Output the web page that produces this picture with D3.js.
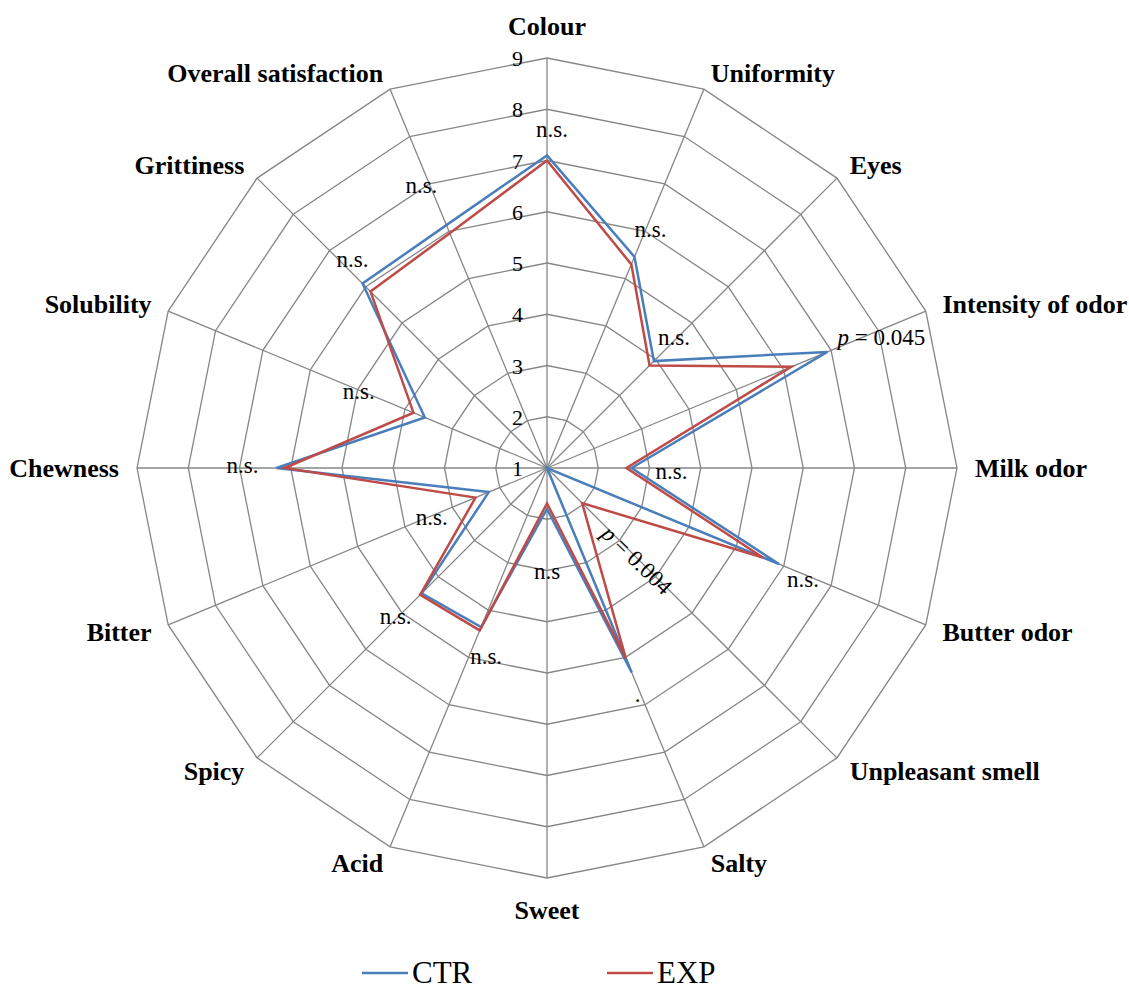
<!DOCTYPE html>
<html>
<head>
<meta charset="utf-8">
<script src="https://cdn.jsdelivr.net/npm/d3@7"></script>
<style>
    body { margin: 0; background: #fff; }
    text { font-family: "Liberation Serif", "Times New Roman", serif; }
</style>
</head>
<body>
<script>
window.onload = main;

// dati
const categories = ["Colour", "Uniformity", "Eyes", "Intensity of odor", "Milk odor", "Butter odor",
    "Unpleasant smell", "Salty", "Sweet", "Acid", "Spicy", "Bitter", "Chewness", "Solubility",
    "Grittiness", "Overall satisfaction"];
const ctrValues = [7.1, 5.46, 3.95, 6.92, 2.65, 5.9, 1.0, 5.32, 1.8, 4.36, 4.46, 2.23, 6.28, 3.58, 6.09, 6.13];
const expValues = [7.0, 5.3, 3.83, 6.16, 2.55, 5.56, 1.97, 5.02, 1.69, 4.43, 4.5, 2.51, 6.12, 3.82, 5.87, 5.96];
const tickValues = [1, 2, 3, 4, 5, 6, 7, 8, 9];
const notes = ["n.s.", "n.s.", "n.s.", "p = 0.045", "n.s.", "n.s.", "p = 0.004", ".", "n.s", "n.s.",
    "n.s.", "n.s.", "n.s.", "n.s.", "n.s.", "n.s."];
const seriesNames = ["CTR", "EXP"];

// layout
const svgWidth = 1129;
const svgHeight = 992;
const cx = 547, cy = 468, radius = 410;
const colors = ["#4a7ebb", "#be4b48"];
const gridColor = "#868686";
// spostamento delle note (px) rispetto al punto CTR
const noteShift = [[5, -23], [16, -25], [20, -21], [54, -12], [40, 6], [24, 18], [88, 94], [6, 24],
    [0, 65], [5, 32], [-26, 26], [-57, 28], [-34, 0], [-66, -23], [-10, -22], [-25, -37]];

function main() {
    const svg = d3.select("body")
        .append("svg")
        .attr("width", svgWidth)
        .attr("height", svgHeight);

    render_radar(svg);
    render_legend(svg);
}

function render_radar(svg) {
    const g = svg.append("g")
        .attr("transform", `translate(${cx}, ${cy})`);

    const n = categories.length;
    const angle = d3.scaleLinear().domain([0, n]).range([0, 2 * Math.PI]);
    const r = d3.scaleLinear().domain([1, 9]).range([0, radius]);

    const px = (i, v) => r(v) * Math.sin(angle(i));
    const py = (i, v) => -r(v) * Math.cos(angle(i));
    const idx = d3.range(n);

    // anelli della griglia
    g.selectAll(".ring")
        .data(tickValues.slice(1))
        .join("polygon")
        .attr("class", "ring")
        .attr("points", v => idx.map(i => [px(i, v), py(i, v)].join(",")).join(" "))
        .attr("fill", "none")
        .attr("stroke", gridColor)
        .attr("stroke-width", 1.3);

    // raggi
    g.selectAll(".spoke")
        .data(idx)
        .join("line")
        .attr("class", "spoke")
        .attr("x1", 0).attr("y1", 0)
        .attr("x2", i => px(i, 9))
        .attr("y2", i => py(i, 9))
        .attr("stroke", gridColor)
        .attr("stroke-width", 1.3);

    // etichette dell'asse
    g.selectAll(".tick")
        .data(tickValues)
        .join("text")
        .attr("class", "tick")
        .attr("x", -24)
        .attr("y", v => -r(v) + 8)
        .attr("text-anchor", "end")
        .attr("font-size", 22)
        .text(v => v);

    // serie
    const lineGen = d3.lineRadial()
        .angle((d, i) => angle(i))
        .radius(d => r(d))
        .curve(d3.curveLinearClosed);

    [ctrValues, expValues].forEach((vals, k) => {
        g.append("path")
            .attr("d", lineGen(vals))
            .attr("fill", "none")
            .attr("stroke", colors[k])
            .attr("stroke-width", 2.5)
            .attr("stroke-linejoin", "miter");
    });

    // nomi delle categorie
    g.selectAll(".cat")
        .data(categories)
        .join("text")
        .attr("class", "cat")
        .attr("x", (d, i) => (radius + 18) * Math.sin(angle(i)))
        .attr("y", (d, i) => {
            const c = Math.cos(angle(i));
            const base = -(radius + 18) * c + 9;
            if (Math.abs(Math.sin(angle(i))) < 0.1) return base - c * 14;
            return base;
        })
        .attr("text-anchor", (d, i) => {
            const s = Math.sin(angle(i));
            return Math.abs(s) < 0.1 ? "middle" : (s > 0 ? "start" : "end");
        })
        .attr("font-size", 26)
        .attr("font-weight", "bold")
        .text(d => d);

    // note di significativita'
    const noteG = g.selectAll(".note")
        .data(notes)
        .join("g")
        .attr("class", "note")
        .attr("transform", (d, i) => {
            const x = px(i, ctrValues[i]) + noteShift[i][0];
            const y = py(i, ctrValues[i]) + noteShift[i][1];
            return i === 6 ? `translate(${x}, ${y}) rotate(44)` : `translate(${x}, ${y})`;
        });

    noteG.append("text")
        .attr("y", 5)
        .attr("text-anchor", "middle")
        .attr("font-size", 23)
        .each(function (d) {
            const t = d3.select(this);
            if (d.startsWith("p ")) {
                t.append("tspan").attr("font-style", "italic").text("p");
                t.append("tspan").text(d.slice(1));
            } else {
                t.text(d);
            }
        });
}

function render_legend(svg) {
    const lg = svg.append("g");
    const xs = [362, 607];
    seriesNames.forEach((name, k) => {
        lg.append("line")
            .attr("x1", xs[k]).attr("x2", xs[k] + 46)
            .attr("y1", 973).attr("y2", 973)
            .attr("stroke", colors[k])
            .attr("stroke-width", 2.5);
        lg.append("text")
            .attr("x", xs[k] + 50)
            .attr("y", 983)
            .attr("font-size", 31)
            .text(name);
    });
}
</script>
</body>
</html>
